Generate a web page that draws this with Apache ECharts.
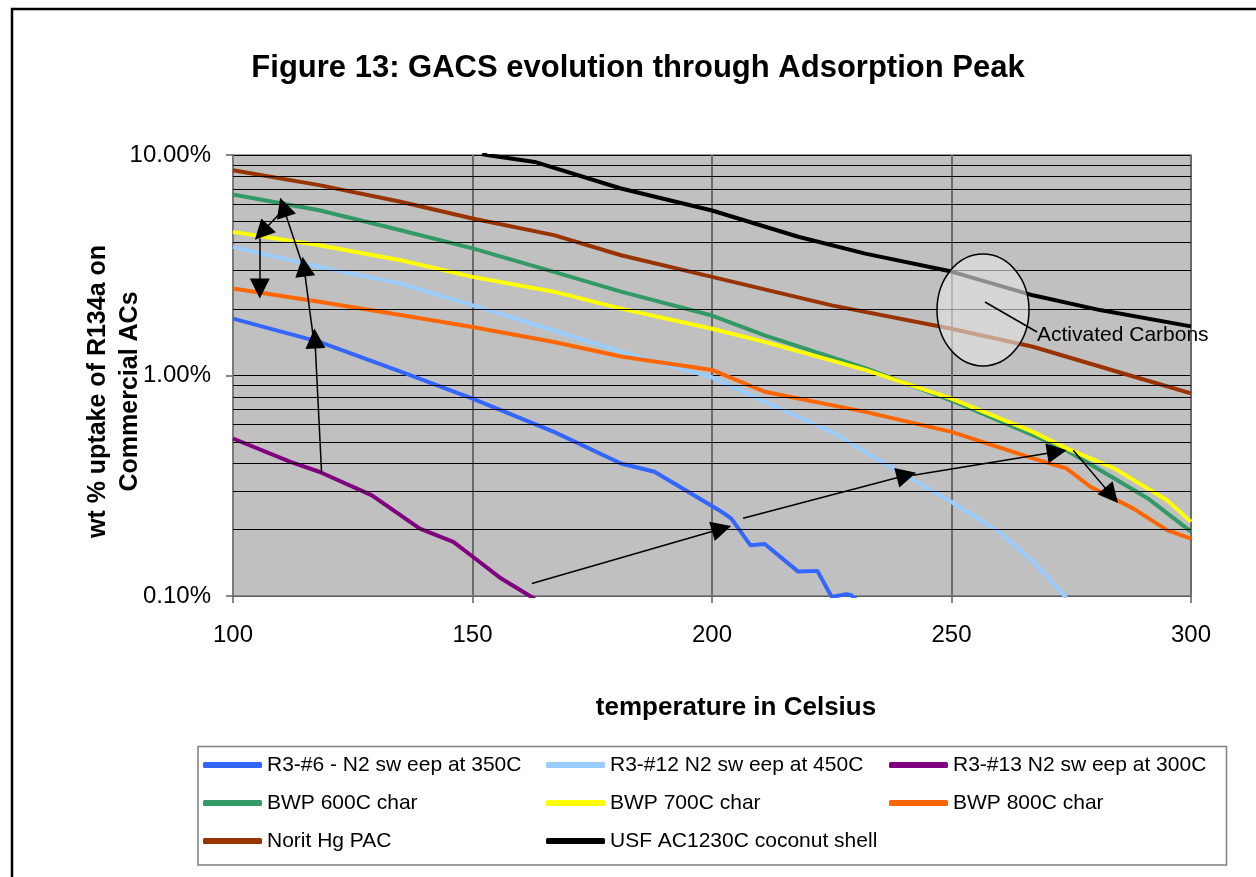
<!DOCTYPE html>
<html>
<head>
<meta charset="utf-8">
<title>Figure 13: GACS evolution through Adsorption Peak</title>
<script src="https://cdn.jsdelivr.net/npm/echarts@6/dist/echarts.min.js"></script>
<style>
  html, body { margin: 0; padding: 0; background: #fff; }
  #chart { width: 1256px; height: 877px; }
</style>
</head>
<body>
<div id="chart"></div>
<script>
// values: temperature (C) and wt % uptake
const r3n6T = [100, 118, 135, 150, 167, 181, 188, 195, 202, 204, 208, 211, 218, 222, 225, 228, 229, 230];
const r3n6V = [1.81, 1.42, 1.04, 0.786, 0.555, 0.399, 0.366, 0.297, 0.241, 0.225, 0.170, 0.172, 0.129, 0.130, 0.099, 0.102, 0.101, 0.097];

const r3n12T = [100, 118, 135, 150, 167, 181, 200, 211, 225, 239, 250, 260, 267, 274];
const r3n12V = [3.83, 3.11, 2.61, 2.08, 1.60, 1.28, 0.98, 0.76, 0.555, 0.366, 0.267, 0.195, 0.143, 0.098];

const r3n13T = [100, 112, 118, 129, 139, 146, 150, 156, 162, 163];
const r3n13V = [0.518, 0.406, 0.366, 0.286, 0.202, 0.176, 0.151, 0.120, 0.100, 0.097];

const bwp600T = [100, 118, 135, 150, 167, 181, 200, 211, 232, 250, 267, 274, 284, 291, 300];
const bwp600V = [6.62, 5.62, 4.56, 3.77, 2.95, 2.40, 1.87, 1.52, 1.08, 0.77, 0.536, 0.458, 0.341, 0.277, 0.196];

const bwp700T = [100, 118, 135, 150, 167, 181, 200, 211, 232, 250, 267, 274, 284, 295, 300];
const bwp700V = [4.48, 3.90, 3.33, 2.80, 2.40, 2.01, 1.63, 1.42, 1.06, 0.786, 0.555, 0.467, 0.379, 0.272, 0.217];

const bwp800T = [100, 118, 135, 150, 167, 181, 200, 211, 232, 250, 267, 274, 279, 288, 295, 300];
const bwp800V = [2.48, 2.16, 1.88, 1.66, 1.42, 1.22, 1.06, 0.844, 0.684, 0.555, 0.421, 0.379, 0.313, 0.249, 0.199, 0.182];

const noritT = [100, 118, 135, 150, 167, 181, 200, 225, 250, 267, 288, 300];
const noritV = [8.53, 7.30, 6.14, 5.15, 4.33, 3.51, 2.80, 2.08, 1.63, 1.35, 0.99, 0.83];

const usfT = [152, 153, 163, 181, 200, 218, 232, 250, 267, 281, 300];
const usfV = [10.1, 10.0, 9.3, 7.05, 5.6, 4.26, 3.57, 2.96, 2.31, 1.98, 1.67];

const names = [
  "R3-#6 - N2 sw eep at 350C", "R3-#12 N2 sw eep at 450C", "R3-#13 N2 sw eep at 300C",
  "BWP 600C char", "BWP 700C char", "BWP 800C char",
  "Norit Hg PAC", "USF AC1230C coconut shell"
];
const colors = ["#3366ff", "#99ccff", "#800080", "#339966", "#ffff00", "#ff6600", "#993300", "#000000"];
const temps = [r3n6T, r3n12T, r3n13T, bwp600T, bwp700T, bwp800T, noritT, usfT];
const values = [r3n6V, r3n12V, r3n13V, bwp600V, bwp700V, bwp800V, noritV, usfV];

// log axis minor gridlines (Excel style)
const minorTicks = [0.2, 0.3, 0.4, 0.5, 0.6, 0.7, 0.8, 0.9, 2, 3, 4, 5, 6, 7, 8, 9];

// annotation arrows, [from, to] in data coords
const arrows = [
  [[111, 5.8], [106, 4.45]],
  [[114.3, 3.28], [110.5, 5.8]],
  [[105.6, 4.18], [105.6, 2.48]],
  [[116.8, 1.47], [114.8, 3.12]],
  [[118.5, 0.36], [117.1, 1.47]],
  [[162.4, 0.114], [202, 0.202]],
  [[206.5, 0.225], [240.6, 0.353]],
  [[242, 0.353], [272, 0.451]],
  [[275.4, 0.458], [283.4, 0.286]]
];

const font = '"Liberation Sans", Arial, sans-serif';

const zip = (t, v) => t.map((x, i) => [x, v[i]]);

const lineSeries = names.map((n, i) => ({
  name: n,
  type: "line",
  data: zip(temps[i], values[i]),
  showSymbol: false,
  symbol: "none",
  color: colors[i],
  lineStyle: { color: colors[i], width: 4 },
  z: 3,
  silent: true
}));

const helper = {
  name: "grid",
  type: "line",
  data: [],
  z: 1,
  silent: true,
  markLine: {
    silent: true,
    symbol: "none",
    label: { show: false },
    lineStyle: { color: "#000", width: 1, type: "solid" },
    data: minorTicks.map(v => ({ yAxis: v }))
  }
};

const arrowSeries = {
  name: "arrows",
  type: "line",
  data: [],
  z: 5,
  silent: true,
  markLine: {
    silent: true,
    symbol: ["none", "triangle"],
    symbolSize: 20,
    label: { show: false },
    lineStyle: { color: "#000", width: 1.5, type: "solid" },
    itemStyle: { color: "#000" },
    data: arrows.map(a => [{ coord: a[0] }, { coord: a[1] }])
  }
};

const legendBase = {
  orient: "vertical",
  top: 754,
  padding: 0,
  itemWidth: 59,
  itemHeight: 6,
  itemGap: 16,
  icon: "roundRect",
  textStyle: { fontFamily: font, fontSize: 21, color: "#000", lineHeight: 22 },
  selectedMode: false
};

const option = {
  animation: false,
  backgroundColor: "#fff",
  title: {
    text: "Figure 13: GACS evolution through Adsorption Peak",
    left: 633,
    textAlign: "center",
    top: 48,
    textStyle: { fontFamily: font, fontSize: 31, fontWeight: "bold", color: "#000" }
  },
  legend: [
    Object.assign({}, legendBase, { left: 203, data: [names[0], names[3], names[6]] }),
    Object.assign({}, legendBase, { left: 546, data: [names[1], names[4], names[7]] }),
    Object.assign({}, legendBase, { left: 889, data: [names[2], names[5]] })
  ],
  grid: {
    left: 233, top: 155, width: 958, height: 441,
    show: true,
    backgroundColor: "#c0c0c0",
    borderColor: "#808080",
    borderWidth: 1.5
  },
  xAxis: {
    type: "value",
    min: 100, max: 300, interval: 50,
    name: "temperature in Celsius",
    nameLocation: "middle",
    nameGap: 99,
    nameMoveOverlap: false,
    nameTextStyle: { fontFamily: font, fontSize: 26, fontWeight: "bold", color: "#000", padding: [0, 0, 0, 48] },
    axisLine: { lineStyle: { color: "#808080", width: 1.5 } },
    axisTick: { show: true, length: 7, lineStyle: { color: "#606060", width: 1.5 } },
    axisLabel: { fontFamily: font, fontSize: 24, color: "#000", margin: 27 },
    splitLine: { show: true, lineStyle: { color: "#6a6a6a", width: 2 } }
  },
  yAxis: {
    type: "log",
    logBase: 10,
    min: 0.1, max: 10,
    name: "wt % uptake of R134a on\nCommercial ACs",
    nameLocation: "middle",
    nameGap: 87,
    nameRotate: 90,
    nameMoveOverlap: false,
    nameTextStyle: { fontFamily: font, fontSize: 25, fontWeight: "bold", color: "#000", lineHeight: 32, padding: [0, 32, 0, 0] },
    axisLine: { show: true, lineStyle: { color: "#808080", width: 1.5 } },
    axisTick: { show: true, length: 7, lineStyle: { color: "#606060", width: 1.5 } },
    axisLabel: {
      fontFamily: font, fontSize: 24, color: "#000", margin: 22,
      formatter: v => v.toFixed(2) + "%"
    },
    splitLine: { show: true, lineStyle: { color: "#000", width: 1 } }
  },
  graphic: [
    { type: "polyline", z: 0, shape: { points: [[12, 877], [12, 9], [1256, 9]] }, style: { stroke: "#000", lineWidth: 2.5, fill: null } },
    { type: "rect", z: 0, shape: { x: 198, y: 746.5, width: 1028.5, height: 118.5 }, style: { stroke: "#808080", lineWidth: 1.5, fill: "#fff" } },
    { type: "ellipse", z: 20, shape: { cx: 983, cy: 310, rx: 46, ry: 56 }, style: { fill: "rgba(228,228,228,0.62)", stroke: "#000", lineWidth: 1.5 } },
    { type: "line", z: 21, shape: { x1: 985, y1: 302, x2: 1037, y2: 332 }, style: { stroke: "#000", lineWidth: 1.5 } },
    { type: "text", z: 21, left: 1037, top: 325, style: { text: "Activated Carbons", font: "21px " + font, fill: "#000" } }
  ],
  series: [helper].concat(lineSeries, [arrowSeries])
};

const chart = echarts.init(document.getElementById("chart"));
chart.setOption(option);
</script>
</body>
</html>
